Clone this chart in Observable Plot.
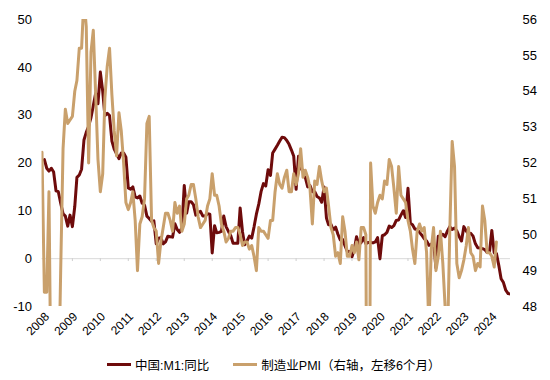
<!DOCTYPE html>
<html><head><meta charset="utf-8">
<script src="https://cdn.jsdelivr.net/npm/d3@7"></script>
<script src="https://cdn.jsdelivr.net/npm/@observablehq/plot@0.6"></script>
<style>
body{margin:0;background:#fff;font-family:"Liberation Sans",Arial,"Noto Sans CJK SC",sans-serif;}
#legend{height:32px;display:flex;align-items:center;padding-left:107px;font-size:12.5px;color:#000;box-sizing:border-box;}
#legend .item{display:flex;align-items:center;margin-right:24px;}
#legend .sw{width:24px;height:3px;margin-right:4px;}
</style></head><body><div id="chart"></div><div id="legend"></div>
<script>
// 中国:M1:同比, monthly from 2008-01
const m1Start = [2008, 0];
const m1Values = [
  20.7, 18.9, 18.3, 18.9, 18.1, 14.2, 14.0, 11.6, 9.4, 8.9, 6.8, 9.1,
  6.7, 10.9, 17.0, 17.5, 18.7, 24.8, 26.4, 27.7, 29.5, 32.0, 34.6, 32.4,
  39.0, 35.0, 29.9, 30.4, 29.9, 24.6, 22.9, 21.9, 20.9, 22.1, 22.1, 21.2,
  14.8, 14.5, 15.0, 12.9, 12.7, 13.1, 11.6, 11.2, 8.9, 8.4, 7.8, 7.9,
  3.1, 4.3, 4.4, 3.1, 3.5, 4.7, 4.6, 4.5, 7.3, 6.1, 5.5, 6.5,
  15.3, 9.5, 11.9, 11.9, 11.3, 9.1, 9.7, 9.9, 8.9, 8.9, 9.4, 9.3,
  1.2, 6.9, 5.4, 5.5, 5.7, 8.9, 6.7, 5.7, 4.8, 3.2, 3.2, 3.2,
  10.6, 5.6, 2.9, 3.7, 4.7, 4.3, 6.6, 9.3, 11.4, 14.0, 15.7, 15.2,
  18.6, 17.4, 22.1, 22.9, 23.7, 24.6, 25.4, 25.3, 24.7, 23.9, 22.7, 21.4,
  14.5, 21.4, 18.8, 18.5, 17.0, 15.0, 15.3, 14.0, 14.0, 13.0, 12.7, 11.8,
  15.0, 8.5, 7.1, 7.2, 6.0, 6.6, 5.1, 3.9, 4.0, 2.7, 1.5, 1.5,
  0.4, 2.0, 4.6, 2.9, 3.4, 4.4, 3.1, 3.4, 3.4, 3.3, 3.5, 4.4,
  0.0, 4.8, 5.0, 5.5, 6.8, 6.5, 6.9, 8.0, 8.1, 9.1, 10.0, 8.6,
  14.7, 7.4, 7.1, 6.2, 6.1, 5.5, 4.9, 4.2, 3.7, 2.8, 3.0, 3.5,
  -1.9, 4.7, 4.7, 5.1, 4.6, 5.8, 6.7, 6.1, 6.4, 5.8, 4.6, 3.7,
  6.7, 5.8, 5.1, 5.3, 4.7, 3.1, 2.3, 2.2, 2.1, 1.9, 1.3, 1.3,
  5.9, 1.2, 1.1, -1.4, -4.2, -5.0, -6.6, -7.3, -7.4
];
// 制造业PMI, monthly from 2008-06 (raw month), plotted 6 months earlier
const pmiStart = [2008, 5];
const pmiShiftMonths = 6;
const pmiValues = [
  52.3, 48.4, 48.4, 51.2, 44.6, 38.8, 41.2,
  45.3, 49.0, 52.4, 53.5, 53.1, 53.2, 53.3, 54.0, 54.3, 55.2, 55.2, 56.6,
  55.8, 52.0, 55.1, 55.7, 53.9, 52.1, 51.2, 51.7, 53.8, 54.7, 55.2, 53.9,
  52.9, 52.2, 53.4, 52.9, 52.0, 50.9, 50.7, 50.9, 51.2, 50.4, 49.0, 50.3,
  50.5, 51.0, 53.1, 53.3, 50.4, 50.2, 50.1, 49.2, 49.8, 50.2, 50.6, 50.6,
  50.4, 50.1, 50.9, 50.6, 50.8, 50.1, 50.3, 51.0, 51.1, 51.4, 51.4, 51.0,
  50.5, 50.2, 50.3, 50.4, 50.8, 51.0, 51.7, 51.1, 51.1, 50.8, 50.3, 50.1,
  49.8, 49.9, 50.1, 50.1, 50.2, 50.2, 50.0, 49.7, 49.8, 49.8, 49.6, 49.7,
  49.4, 49.0, 50.2, 50.1, 50.1, 50.0, 49.9, 50.4, 50.4, 51.2, 51.7, 51.4,
  51.3, 51.6, 51.8, 51.2, 51.2, 51.7, 51.4, 51.7, 52.4, 51.6, 51.8, 51.6,
  51.3, 50.3, 51.5, 51.4, 51.9, 51.5, 51.2, 51.3, 50.8, 50.2, 50.0, 49.4,
  49.5, 49.2, 50.5, 50.1, 49.4, 49.4, 49.7, 49.5, 49.8, 49.3, 50.2, 50.2,
  50.0, 35.7, 52.0, 50.8, 50.6, 50.9, 51.1, 51.0, 51.5, 51.4, 52.1, 51.9,
  51.3, 50.6, 51.9, 51.1, 51.0, 50.9, 50.4, 50.1, 49.6, 49.2, 50.1, 50.3,
  50.1, 50.2, 49.5, 47.4, 49.6, 50.2, 49.0, 49.4, 50.1, 49.2, 48.0, 47.0,
  50.1, 52.6, 51.9, 49.2, 48.8, 49.0, 49.3, 49.7, 50.2, 49.5, 49.4, 49.0,
  49.2, 49.1, 50.8, 50.4, 49.5, 49.5, 49.4, 49.1, 49.8
];
const leftTicks = [-10, 0, 10, 20, 30, 40, 50];
const rightTicks = [48, 49, 50, 51, 52, 53, 54, 55, 56];
const yearTicks = d3.range(2008, 2025);
const seriesNames = ["中国:M1:同比", "制造业PMI（右轴，左移6个月）"];
const seriesColors = ["#6E0B0B", "#C9A06C"];

const leftDomain = [-10, 50];
const rightDomain = [48, 56];
const toLeft = v => (v - rightDomain[0]) / (rightDomain[1] - rightDomain[0]) * (leftDomain[1] - leftDomain[0]) + leftDomain[0];
const fromLeft = v => String(Math.round((v - leftDomain[0]) / (leftDomain[1] - leftDomain[0]) * (rightDomain[1] - rightDomain[0]) + rightDomain[0]));

const m1 = m1Values.map((v, i) => ({date: new Date(Date.UTC(m1Start[0], m1Start[1] + i, 1)), value: v}));
const pmi = pmiValues.map((v, i) => ({date: new Date(Date.UTC(pmiStart[0], pmiStart[1] + i - pmiShiftMonths, 1)), value: toLeft(v)}));
const yearDates = yearTicks.map(y => new Date(Date.UTC(y, 0, 1)));

const chart = Plot.plot({
  width: 550, height: 348,
  marginLeft: 41.5, marginRight: 40, marginTop: 19, marginBottom: 42,
  style: {fontFamily: '"Liberation Sans", Arial, sans-serif', fontSize: "13px", color: "#000", background: "#fff"},
  x: {type: "utc", domain: [pmi[0].date, m1[m1.length - 1].date]},
  y: {domain: leftDomain},
  marks: [
    Plot.ruleY([0], {stroke: "#d9d9d9", strokeWidth: 1}),
    Plot.ruleX(yearDates, {x: d => d, y1: 0, y2: -0.6, stroke: "#cfcfcf"}),
    Plot.axisY(leftTicks, {anchor: "left", label: null, tickSize: 0, tickPadding: 10, fontSize: 13, tickFormat: d => String(d)}),
    Plot.axisY(rightTicks.map(toLeft), {anchor: "right", label: null, tickSize: 0, tickPadding: 12, fontSize: 13, tickFormat: fromLeft}),
    Plot.axisX(yearDates, {anchor: "bottom", label: null, tickSize: 0, tickPadding: 8, tickRotate: -45, fontSize: 12, dx: 3, tickFormat: d => String(d.getUTCFullYear())}),
    Plot.line(m1, {x: "date", y: "value", stroke: seriesColors[0], strokeWidth: 3, clip: true}),
    Plot.line(pmi, {x: "date", y: "value", stroke: seriesColors[1], strokeWidth: 3, clip: true})
  ]
});
document.getElementById("chart").appendChild(chart);

const legend = document.getElementById("legend");
seriesNames.forEach((name, i) => {
  const item = document.createElement("div");
  item.className = "item";
  const sw = document.createElement("span");
  sw.className = "sw";
  sw.style.background = seriesColors[i];
  const label = document.createElement("span");
  label.textContent = name;
  item.appendChild(sw); item.appendChild(label);
  legend.appendChild(item);
});
</script></body></html>
